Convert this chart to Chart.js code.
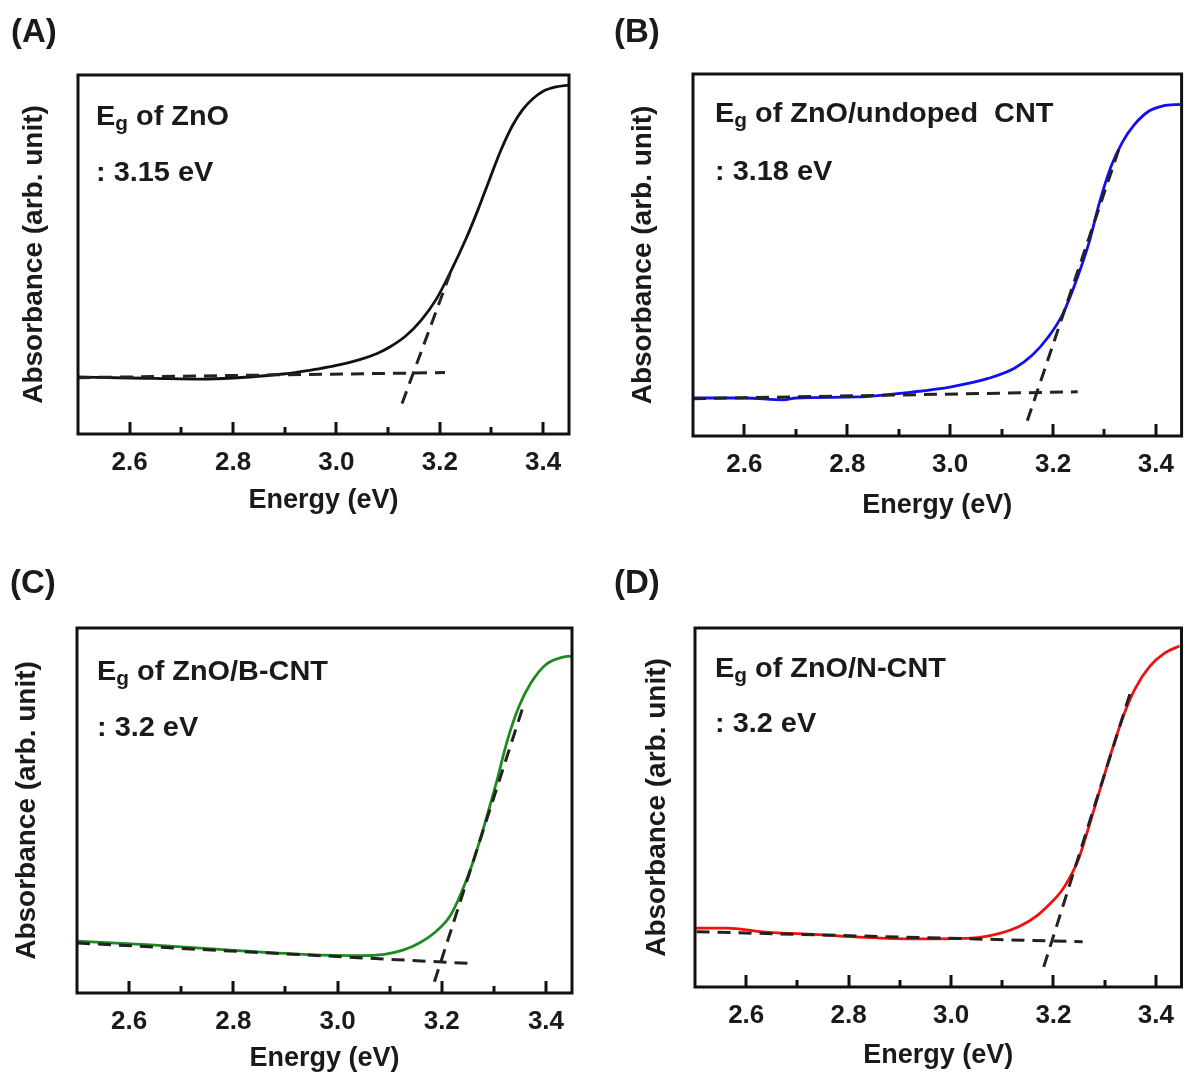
<!DOCTYPE html>
<html>
<head>
<meta charset="utf-8">
<script src="https://cdn.jsdelivr.net/npm/chart.js@4.4.0/dist/chart.umd.min.js"></script>
<style>
  body { margin: 0; background: #fff; }
  #page { position: relative; width: 1187px; height: 1077px; overflow: hidden; background: #fff; }
  canvas { position: absolute; }
  .txt { position: absolute; font-family: "Liberation Sans", Arial, sans-serif; font-weight: bold; color: #1a1a1a; line-height: 1; white-space: pre; transform-origin: 0 0; }
  .txt sub { font-size: 0.72em; line-height: 0; vertical-align: -0.28em; }
</style>
</head>
<body>
<div id="page">
  <canvas id="cA" width="595" height="540"></canvas>
  <canvas id="cB" width="587" height="540"></canvas>
  <canvas id="cC" width="595" height="532"></canvas>
  <canvas id="cD" width="587" height="532"></canvas>
</div>
<script>
// axis ticks (eV)
var majorTicks = [2.6, 2.8, 3.0, 3.2, 3.4];
var minorTicks = [2.7, 2.9, 3.1, 3.3];

// panel text
var panelLabels = ['(A)', '(B)', '(C)', '(D)'];
var sampleNames = ['ZnO', 'ZnO/undoped  CNT', 'ZnO/B-CNT', 'ZnO/N-CNT'];
var gapValues = [': 3.15 eV', ': 3.18 eV', ': 3.2 eV', ': 3.2 eV'];

// (A) ZnO
var energyA = [2.50, 2.60, 2.645, 2.74, 2.80, 2.867, 2.92, 2.963, 3.00, 3.045, 3.08, 3.104, 3.134, 3.163, 3.193, 3.222, 3.252, 3.274, 3.297, 3.319, 3.341, 3.36, 3.38, 3.40, 3.425, 3.45];
var absA    = [0.159, 0.156, 0.155, 0.153, 0.156, 0.163, 0.171, 0.181, 0.191, 0.207, 0.225, 0.243, 0.273, 0.315, 0.375, 0.455, 0.548, 0.625, 0.712, 0.793, 0.860, 0.903, 0.934, 0.955, 0.967, 0.972];
var baseA_x = [2.50, 3.21];
var baseA_y = [0.157, 0.171];
var tanA_x  = [3.127, 3.222];
var tanA_y  = [0.085, 0.455];

// (B) ZnO/undoped CNT
var energyB = [2.50, 2.60, 2.676, 2.70, 2.821, 2.929, 3.002, 3.074, 3.125, 3.161, 3.190, 3.219, 3.248, 3.270, 3.291, 3.313, 3.335, 3.357, 3.386, 3.414, 3.447];
var absB    = [0.105, 0.105, 0.100, 0.105, 0.108, 0.122, 0.136, 0.159, 0.187, 0.225, 0.272, 0.337, 0.440, 0.534, 0.648, 0.745, 0.812, 0.858, 0.897, 0.912, 0.916];
var baseB_x = [2.50, 3.248];
var baseB_y = [0.103, 0.122];
var tanB_x  = [3.150, 3.330];
var tanB_y  = [0.042, 0.800];

// (C) ZnO/B-CNT
var energyC = [2.50, 2.641, 2.788, 2.935, 3.046, 3.090, 3.127, 3.157, 3.186, 3.216, 3.238, 3.260, 3.282, 3.304, 3.326, 3.348, 3.371, 3.400, 3.429, 3.448];
var absC    = [0.142, 0.132, 0.118, 0.106, 0.102, 0.106, 0.118, 0.137, 0.165, 0.211, 0.276, 0.359, 0.461, 0.572, 0.692, 0.784, 0.849, 0.900, 0.919, 0.923];
var baseC_x = [2.50, 3.252];
var baseC_y = [0.137, 0.081];
var tanC_x  = [3.186, 3.356];
var tanC_y  = [0.031, 0.784];

// (D) ZnO/N-CNT
var energyD = [2.50, 2.560, 2.640, 2.749, 2.821, 2.930, 3.039, 3.097, 3.134, 3.170, 3.199, 3.215, 3.228, 3.240, 3.250, 3.271, 3.293, 3.315, 3.337, 3.359, 3.388, 3.417, 3.446];
var absD    = [0.164, 0.164, 0.153, 0.145, 0.139, 0.134, 0.136, 0.150, 0.169, 0.201, 0.240, 0.266, 0.295, 0.327, 0.360, 0.455, 0.560, 0.663, 0.757, 0.830, 0.893, 0.930, 0.950];
var baseD_x = [2.503, 3.257];
var baseD_y = [0.154, 0.126];
var tanD_x  = [3.181, 3.351];
var tanD_y  = [0.056, 0.824];

function pts(xs, ys) {
  return xs.map(function (x, i) { return { x: x, y: ys[i] }; });
}

// frame box + inward ticks along the bottom
var frame = {
  id: 'frame',
  afterDatasetsDraw: function (chart) {
    var ctx = chart.ctx, a = chart.chartArea, x = chart.scales.x;
    ctx.save();
    ctx.strokeStyle = '#111';
    ctx.lineWidth = 3;
    ctx.strokeRect(a.left, a.top, a.right - a.left, a.bottom - a.top);
    ctx.beginPath();
    majorTicks.forEach(function (v) {
      var p = Math.round(x.getPixelForValue(v));
      ctx.moveTo(p, a.bottom); ctx.lineTo(p, a.bottom - 12);
    });
    minorTicks.forEach(function (v) {
      var p = Math.round(x.getPixelForValue(v));
      ctx.moveTo(p, a.bottom); ctx.lineTo(p, a.bottom - 7);
    });
    ctx.stroke();
    ctx.restore();
  }
};

var panels = [
  { id: 'cA', left: 0,   top: 0,   padTop: 75, padRight: 26, yW: 78, xH: 106, yTitlePad: 17, xTitlePad: 23, color: '#111111',
    curve: pts(energyA, absA), base: pts(baseA_x, baseA_y), tan: pts(tanA_x, tanA_y) },
  { id: 'cB', left: 600, top: 0,   padTop: 74, padRight: 1,  yW: 93, xH: 104, yTitlePad: 26, xTitlePad: 18, color: '#1010f0',
    curve: pts(energyB, absB), base: pts(baseB_x, baseB_y), tan: pts(tanB_x, tanB_y) },
  { id: 'cC', left: 0,   top: 545, padTop: 83, padRight: 23, yW: 77, xH: 84,  yTitlePad: 10, xTitlePad: 2,  color: '#1f8a1f',
    curve: pts(energyC, absC), base: pts(baseC_x, baseC_y), tan: pts(tanC_x, tanC_y) },
  { id: 'cD', left: 600, top: 545, padTop: 83, padRight: 1,  yW: 95, xH: 90,  yTitlePad: 40, xTitlePad: 5,  color: '#f01010',
    curve: pts(energyD, absD), base: pts(baseD_x, baseD_y), tan: pts(tanD_x, tanD_y) }
];

var textPos = [
  { lab: [11, 14],   l1: [96, 126],  l2: [96, 182] },
  { lab: [614, 14],  l1: [715, 123], l2: [715, 181] },
  { lab: [10, 565],  l1: [97, 681],  l2: [97, 737] },
  { lab: [614, 565], l1: [715, 678], l2: [715, 733] }
];

var fontFam = '"Liberation Sans", Arial, sans-serif';
var dashStyle = { borderColor: '#222', borderWidth: 3, borderDash: [13, 8], pointRadius: 0, fill: false, order: 0 };

panels.forEach(function (p) {
  var cv = document.getElementById(p.id);
  cv.style.left = p.left + 'px';
  cv.style.top = p.top + 'px';
  new Chart(cv.getContext('2d'), {
    type: 'line',
    data: {
      datasets: [
        { data: p.curve, borderColor: p.color, borderWidth: 2.8, pointRadius: 0, fill: false, cubicInterpolationMode: 'monotone', order: 1 },
        Object.assign({ data: p.base }, dashStyle),
        Object.assign({ data: p.tan }, dashStyle)
      ]
    },
    options: {
      responsive: false,
      devicePixelRatio: 1,
      animation: false,
      events: [],
      layout: { padding: { left: 0, top: p.padTop, right: p.padRight, bottom: 0 } },
      plugins: { legend: { display: false }, tooltip: { enabled: false } },
      scales: {
        x: {
          type: 'linear', min: 2.5, max: 3.45,
          afterBuildTicks: function (s) { s.ticks = majorTicks.map(function (v) { return { value: v }; }); },
          afterFit: function (s) { s.height = p.xH; },
          grid: { display: false, drawTicks: false },
          border: { display: false },
          ticks: { padding: 13, color: '#1a1a1a', font: { family: fontFam, size: 26, weight: 'bold' },
            maxRotation: 0, autoSkip: false, callback: function (v) { return v.toFixed(1); } },
          title: { display: true, text: 'Energy (eV)', color: '#1a1a1a',
            font: { family: fontFam, size: 27, weight: 'bold' }, padding: { top: 0, bottom: p.xTitlePad } }
        },
        y: {
          min: 0, max: 1,
          afterFit: function (s) { s.width = p.yW; },
          grid: { display: false, drawTicks: false },
          border: { display: false },
          ticks: { display: false },
          title: { display: true, text: 'Absorbance (arb. unit)', color: '#1a1a1a',
            font: { family: fontFam, size: 28, weight: 'bold' }, padding: { top: p.yTitlePad, bottom: 0 } }
        }
      }
    },
    plugins: [frame]
  });
});

// panel letters and band-gap notes
var page = document.getElementById('page');
function addText(html, x, baseline, size, sx) {
  var d = document.createElement('div');
  d.className = 'txt';
  d.innerHTML = html;
  d.style.fontSize = size + 'px';
  d.style.left = x + 'px';
  d.style.top = (baseline - 0.8465 * size) + 'px';
  if (sx) d.style.transform = 'scaleX(' + sx + ')';
  page.appendChild(d);
}
panelLabels.forEach(function (lab, i) {
  var t = textPos[i];
  addText(lab, t.lab[0], t.lab[1] + 28, 33, 1);
  addText('E<sub>g</sub> of ' + sampleNames[i], t.l1[0], t.l1[1], 27, 1.07);
  addText(gapValues[i], t.l2[0], t.l2[1], 27, 1.07);
});
</script>
</body>
</html>
